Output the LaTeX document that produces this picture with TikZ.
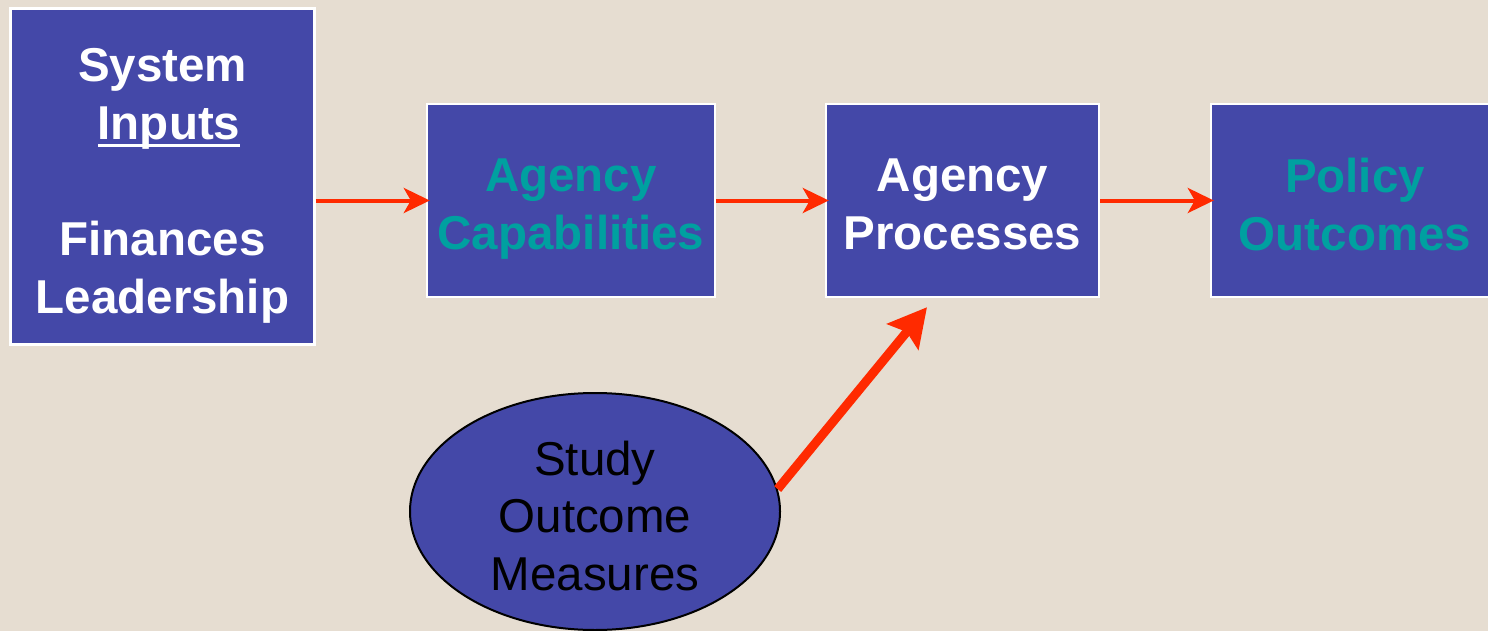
\documentclass[tikz,border=0pt]{standalone}
\usepackage{fontspec}
\setmainfont{Liberation Sans}
\usetikzlibrary{arrows.meta,shapes.geometric}
\definecolor{beige}{HTML}{E6DDD1}
\definecolor{boxblue}{HTML}{4448A8}
\definecolor{tealtext}{HTML}{00A0A0}
\definecolor{arrowred}{HTML}{FF2A00}
\newcommand{\undr}[1]{\setbox0\hbox{#1}\rlap{\rule[-3.75pt]{\wd0}{1.5pt}}\box0}
\newcommand{\low}[1]{\raisebox{-2pt}[\height][\depth]{#1}}

\begin{document}
\begin{tikzpicture}[x=0.5pt, y=-0.5pt,
    stage/.style={rectangle, draw=white, line width=1.2pt, fill=boxblue, align=center,
        font=\fontsize{23.75}{29}\selectfont\bfseries, inner sep=0pt, text depth=0pt,
        minimum width=144pt, minimum height=96.5pt},
    measure/.style={ellipse, draw=black, line width=1pt, fill=boxblue, align=center,
        font=\fontsize{23.75}{28.75}\selectfont, inner sep=0pt, text depth=0pt,
        minimum width=185pt, minimum height=118.5pt},
    flow/.style={draw=arrowred, line width=2pt, shorten >=-2pt, -{Stealth[length=13pt,width=12.5pt,inset=3.5pt]}},
    push/.style={draw=arrowred, line width=4.5pt, -{Stealth[length=19pt,width=20pt,inset=3pt]}}]

    \path[use as bounding box, fill=beige] (0,0) rectangle (1488,631);

    \node [stage, minimum width=152pt, minimum height=168pt, text=white] (inputs) at (162.5,176.5)
        {\low{System}\\\kern6.5pt\low{\undr{Inputs}}\\[29pt]\low{Finances}\\\low{Leadership}};
    \node [stage, text=tealtext] (capab) at (571,200.5) {\low{Agency}\\\low{Capabilities}};
    \node [stage, minimum width=136.5pt, text=white] (proc) at (962.5,200.5) {\low{Agency}\\\low{Processes}};
    \node [stage, text=tealtext] (policy) at (1355,200.5) {\low{Policy}\\\low{Outcomes}};
    \node [measure] (study) at (595,511.5) {\low{Study}\\\low{Outcome}\\\low{Measures}};
    \coordinate (procin) at ([xshift=-17.75pt,yshift=-4.5pt]proc.south);

    \draw [flow] (inputs.east |- capab.west) -- (capab.west);
    \draw [flow] (capab.east) -- (proc.west);
    \draw [flow] (proc.east) -- (policy.west);
    \draw [push] (study.7) -- (procin);

\end{tikzpicture}
\end{document}
